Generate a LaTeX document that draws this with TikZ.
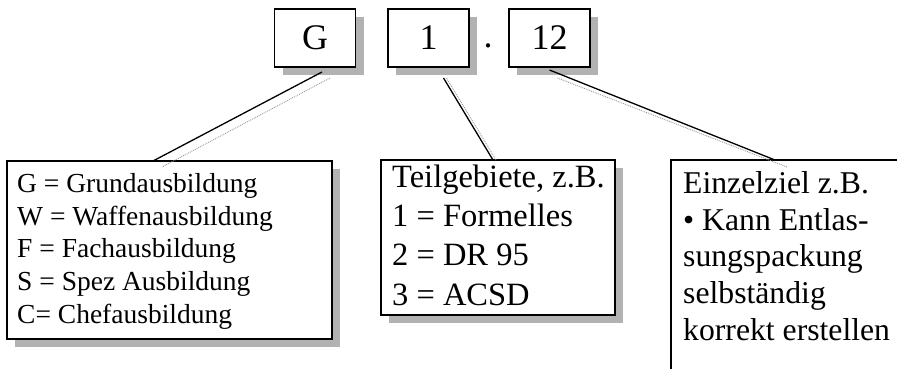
\documentclass[tikz,border=0pt]{standalone}
\usepackage{fontspec}
\setmainfont{Liberation Serif}
\usetikzlibrary{calc,shadows}

\tikzset{
  frame/.style={draw, line width=1.1pt, fill=white, inner sep=0pt, outer sep=0pt},
  shaded/.style={drop shadow={shadow xshift=8pt, shadow yshift=-8pt, opacity=1, fill=gray!60}},
  codebox/.style={frame, shaded, minimum width=81pt, minimum height=58pt, font=\fontsize{36}{42}\selectfont},
  infobox/.style={frame, anchor=north west},
  infotext/.style={anchor=north west, align=left, inner sep=0pt},
  link/.style={line width=1.3pt},
  linkshade/.style={draw=gray!80, densely dotted, line width=0.9pt},
}

\begin{document}
\begin{tikzpicture}[x=1pt,y=-1pt]
            \clip (0,0) rectangle (897,368);
            \node[codebox] (g) at (315,38) {G};
            \node[codebox] (one) at (428.5,38) {1};
            \node[codebox] (twelve) at (549.5,38) {12};
            \node[anchor=base, inner sep=0pt, font=\fontsize{36}{42}\selectfont] (dot) at (488,47) {.};
            \node[infobox, shaded, minimum width=325pt, minimum height=178pt] (grp) at (7,161) {};
            \node[infobox, shaded, minimum width=234pt, minimum height=155pt] (sub) at (381,160) {};
            \node[infobox, minimum width=260pt, minimum height=240pt] (aim) at (671,160) {};
            \node[infotext, font=\fontsize{27.5}{32.75}\selectfont] (grptext) at (17,173)
                {G = Grundausbildung\\ W = Waffenausbildung\\ F = Fachausbildung\\ S = Spez Ausbildung\\ C= Chefausbildung};
            \node[infotext, font=\fontsize{32.5}{39.3}\selectfont] (subtext) at (392,164.5)
                {Teilgebiete, z.B.\\ 1 = Formelles\\ 2 = DR 95\\ 3 = ACSD};
            \node[infotext, font=\fontsize{31.7}{36.8}\selectfont] (aimtext) at (683,171)
                {Einzelziel z.B.\\ \textbullet{} Kann Entlas-\\ sungspackung\\ selbständig\\ korrekt erstellen};
            \draw[link] ($(g.south)+(7,5)$) -- ($(grp.north west)+(146,0)$);
            \draw[linkshade] ($(g.south)+(15,11)$) -- ($(grp.north west)+(155,6)$);
            \draw[link] ($(one.south)+(15,11)$) -- ($(sub.north)+(-5,0)$);
            \draw[linkshade] ($(one.south)+(18,11)$) -- ($(sub.north)+(-2,0)$);
            \draw[link] ($(twelve.south)+(0,3)$) -- ($(aim.north west)+(104,0)$);
            \draw[linkshade] ($(twelve.south)+(8,11)$) -- ($(aim.north west)+(116,7)$);
        \end{tikzpicture}
\end{document}
